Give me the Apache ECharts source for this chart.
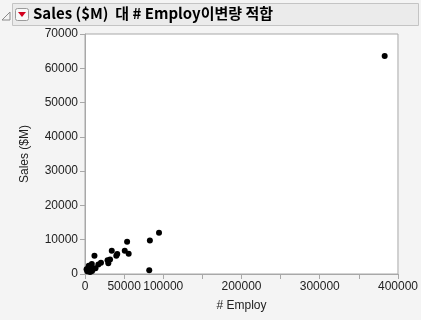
<!DOCTYPE html>
<html><head><meta charset="utf-8">
<script src="https://cdn.jsdelivr.net/npm/echarts@6/dist/echarts.min.js"></script>
<style>html,body{margin:0;padding:0;background:#f4f4f4;}#c{width:421px;height:320px;}</style>
</head><body><div id="c"></div>
<script>
const titleText = "Sales ($M)  대 # Employ이변량 적합";
const xName = "# Employ";
const yName = "Sales ($M)";
const employ = [383000, 94600, 82900, 82100, 53800, 50800, 55800, 41200, 40000, 34200, 32000, 28800, 29800, 20400, 17100, 12100, 8700, 7500, 13400, 10000, 4000, 5800, 3000, 6500, 2000, 9000, 4800];
const sales  = [63600, 12000, 9800, 1100, 9400, 6800, 5900, 5800, 5300, 6800, 4200, 4000, 3100, 3300, 2800, 5300, 2900, 2200, 1700, 1400, 1700, 1200, 800, 600, 1400, 900, 2400];
const xHidden = [150000, 250000, 350000];

const chart = echarts.init(document.getElementById('c'), null, {renderer:'canvas'});
const font = "'Liberation Sans', Arial, sans-serif";
chart.setOption({
  backgroundColor: '#f4f4f4',
  animation: false,
  grid: {left: 85, top: 34, width: 320, height: 240, show: true, backgroundColor: '#ffffff', borderColor: '#a8a8a8', borderWidth: 1},
  xAxis: {
    type: 'value', min: 0, max: 400000, interval: 50000,
    name: xName, nameLocation: 'middle', nameGap: 26,
    nameTextStyle: {color: '#222', fontSize: 12, fontFamily: font},
    axisLine: {show: true, lineStyle: {color: '#a8a8a8'}},
    axisTick: {show: true, length: 5, lineStyle: {color: '#a8a8a8'}},
    splitLine: {show: false},
    axisLabel: {color: '#222', fontSize: 12, fontFamily: font, margin: 7,
      formatter: v => xHidden.indexOf(v) >= 0 ? '' : String(v)}
  },
  yAxis: {
    type: 'value', min: 0, max: 70000, interval: 10000,
    name: yName, nameLocation: 'middle', nameGap: 54,
    nameTextStyle: {color: '#222', fontSize: 12, fontFamily: font},
    axisLine: {show: true, lineStyle: {color: '#a8a8a8'}},
    axisTick: {show: true, length: 5, lineStyle: {color: '#a8a8a8'}},
    splitLine: {show: false},
    axisLabel: {color: '#222', fontSize: 12, fontFamily: font, margin: 7, formatter: v => String(v)}
  },
  series: [{
    type: 'scatter', symbol: 'circle', symbolSize: 6,
    itemStyle: {color: '#000', opacity: 1},
    data: employ.map((x, i) => [x, sales[i]])
  }],
  graphic: [
    {type: 'rect', shape: {x: 12.5, y: 3.5, width: 406, height: 22}, style: {fill: '#ebebeb', stroke: '#c4c4c4', lineWidth: 1}},
    {type: 'polyline', shape: {points: [[10, 12], [10, 20], [2, 20], [10, 12]]}, style: {stroke: '#8a8a8a', fill: 'none', lineWidth: 1}},
    {type: 'rect', shape: {x: 15.5, y: 8.5, width: 13, height: 12, r: 2}, style: {fill: '#f8f8f8', stroke: '#9a9a9a', lineWidth: 1}},
    {type: 'polygon', shape: {points: [[18, 12], [26, 12], [22, 17]]}, style: {fill: '#d2001e'}},
    {type: 'text', left: 33, top: 6, style: {text: titleText, fill: '#000', font: "bold 15px 'Noto Sans CJK KR', 'Open Sans', sans-serif"}}
  ]
});
</script></body></html>
